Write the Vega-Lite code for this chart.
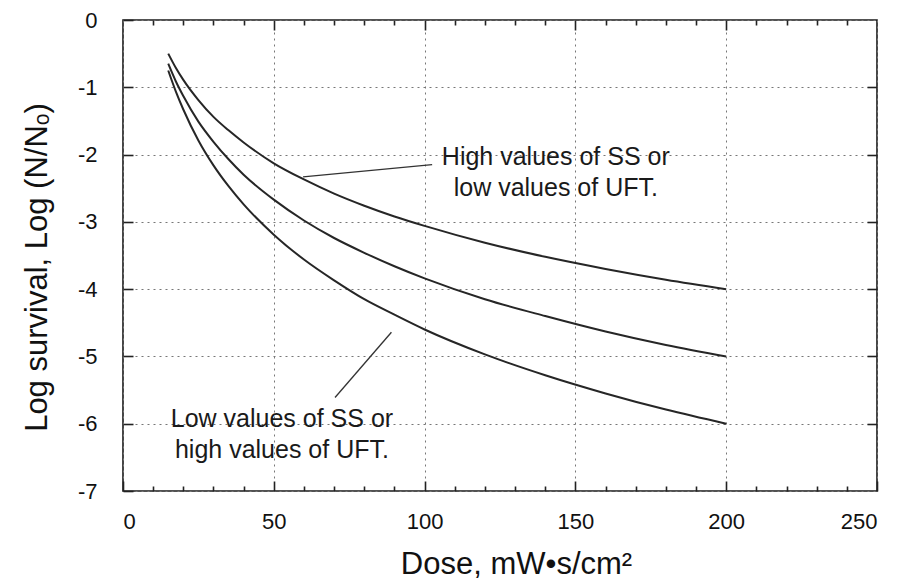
{
  "$schema": "https://vega.github.io/schema/vega-lite/v6.json",
  "width": 754,
  "height": 471,
  "autosize": {"type": "none"},
  "padding": {"left": 123, "top": 20, "right": 30, "bottom": 88},
  "background": "white",
  "config": {
    "view": {"stroke": "#1a1a1a", "strokeWidth": 1.6},
    "axis": {"domain": false, "labelFont": "Liberation Sans", "titleFont": "Liberation Sans", "labelColor": "#111", "titleColor": "#111", "tickColor": "#222", "tickWidth": 1.6, "titleFontWeight": "normal"}
  },
  "datasets": {
    "curves": [
      {"s": "high", "dose": 15, "logS": -0.50}, {"s": "high", "dose": 17.5, "logS": -0.71}, {"s": "high", "dose": 20, "logS": -0.89}, {"s": "high", "dose": 25, "logS": -1.19}, {"s": "high", "dose": 30, "logS": -1.44}, {"s": "high", "dose": 35, "logS": -1.64}, {"s": "high", "dose": 40, "logS": -1.82}, {"s": "high", "dose": 50, "logS": -2.13}, {"s": "high", "dose": 60, "logS": -2.37}, {"s": "high", "dose": 70, "logS": -2.58}, {"s": "high", "dose": 80, "logS": -2.76}, {"s": "high", "dose": 90, "logS": -2.92}, {"s": "high", "dose": 100, "logS": -3.06}, {"s": "high", "dose": 120, "logS": -3.31}, {"s": "high", "dose": 140, "logS": -3.52}, {"s": "high", "dose": 160, "logS": -3.70}, {"s": "high", "dose": 180, "logS": -3.86}, {"s": "high", "dose": 200, "logS": -4.00},
      {"s": "mid", "dose": 15, "logS": -0.65}, {"s": "mid", "dose": 17.5, "logS": -0.91}, {"s": "mid", "dose": 20, "logS": -1.13}, {"s": "mid", "dose": 25, "logS": -1.51}, {"s": "mid", "dose": 30, "logS": -1.81}, {"s": "mid", "dose": 35, "logS": -2.07}, {"s": "mid", "dose": 40, "logS": -2.30}, {"s": "mid", "dose": 50, "logS": -2.67}, {"s": "mid", "dose": 60, "logS": -2.98}, {"s": "mid", "dose": 70, "logS": -3.24}, {"s": "mid", "dose": 80, "logS": -3.46}, {"s": "mid", "dose": 90, "logS": -3.66}, {"s": "mid", "dose": 100, "logS": -3.84}, {"s": "mid", "dose": 120, "logS": -4.15}, {"s": "mid", "dose": 140, "logS": -4.40}, {"s": "mid", "dose": 160, "logS": -4.63}, {"s": "mid", "dose": 180, "logS": -4.83}, {"s": "mid", "dose": 200, "logS": -5.00},
      {"s": "low", "dose": 15, "logS": -0.75}, {"s": "low", "dose": 17.5, "logS": -1.06}, {"s": "low", "dose": 20, "logS": -1.33}, {"s": "low", "dose": 25, "logS": -1.79}, {"s": "low", "dose": 30, "logS": -2.16}, {"s": "low", "dose": 35, "logS": -2.47}, {"s": "low", "dose": 40, "logS": -2.74}, {"s": "low", "dose": 50, "logS": -3.19}, {"s": "low", "dose": 60, "logS": -3.56}, {"s": "low", "dose": 70, "logS": -3.87}, {"s": "low", "dose": 80, "logS": -4.15}, {"s": "low", "dose": 90, "logS": -4.38}, {"s": "low", "dose": 100, "logS": -4.60}, {"s": "low", "dose": 120, "logS": -4.97}, {"s": "low", "dose": 140, "logS": -5.28}, {"s": "low", "dose": 160, "logS": -5.55}, {"s": "low", "dose": 180, "logS": -5.79}, {"s": "low", "dose": 200, "logS": -6.00}
    ],
    "pointers": [
      {"x1": 59.7, "y1": -2.33, "x2": 102.5, "y2": -2.15},
      {"x1": 70.3, "y1": -5.61, "x2": 89.0, "y2": -4.64}
    ],
    "labelsA": [
      {"x": 143.5, "y": -2.04, "t": "High values of SS or"},
      {"x": 143.5, "y": -2.49, "t": "low values of UFT."}
    ],
    "labelsB": [
      {"x": 52.7, "y": -5.93, "t": "Low values of SS or"},
      {"x": 52.7, "y": -6.39, "t": "high values of UFT."}
    ]
  },
  "layer": [
    {
      "data": {"name": "curves"},
      "mark": {"type": "line", "color": "#262626", "strokeWidth": 2, "interpolate": "monotone"},
      "encoding": {
        "x": {"field": "dose", "type": "quantitative", "scale": {"domain": [0, 250], "nice": false},
          "axis": {"orient": "bottom", "values": [0, 50, 100, 150, 200, 250], "tickSize": -10, "labelPadding": 30, "labelFontSize": 22, "grid": true, "gridDash": [2, 4], "gridColor": "#777", "gridWidth": 1, "title": "Dose, mW•s/cm²", "titleFontSize": 31, "titleX": 393, "titleY": 82, "titleAlign": "center", "titleBaseline": "alphabetic"}},
        "y": {"field": "logS", "type": "quantitative", "scale": {"domain": [-7, 0], "nice": false, "zero": false},
          "axis": {"orient": "left", "values": [-7, -6, -5, -4, -3, -2, -1, 0], "labelExpr": "'' + datum.value", "tickSize": -10, "labelPadding": 36, "labelFontSize": 22, "grid": true, "gridDash": [2, 4], "gridColor": "#777", "gridWidth": 1, "title": "Log survival, Log (N/Nₒ)", "titleFontSize": 31, "titleX": -86, "titleY": 247, "titleAlign": "center", "titleBaseline": "middle", "titleAngle": -90}},
        "detail": {"field": "s"}
      }
    },
    {
      "data": {"name": "pointers"},
      "mark": {"type": "rule", "color": "#333", "strokeWidth": 1.3},
      "encoding": {
        "x": {"field": "x1", "type": "quantitative", "axis": {"orient": "bottom", "values": [10, 20, 30, 40, 60, 70, 80, 90, 110, 120, 130, 140, 160, 170, 180, 190, 210, 220, 230, 240], "tickSize": -5, "labels": false, "grid": false, "title": null}},
        "y": {"field": "y1", "type": "quantitative", "axis": {"orient": "right", "values": [-6, -5, -4, -3, -2, -1], "tickSize": -10, "labels": false, "grid": false, "title": null}},
        "x2": {"field": "x2"},
        "y2": {"field": "y2"}
      }
    },
    {
      "data": {"name": "labelsA"},
      "mark": {"type": "text", "font": "Liberation Sans", "fontSize": 25, "color": "#1a1a1a", "align": "center", "baseline": "middle"},
      "encoding": {
        "x": {"field": "x", "type": "quantitative", "axis": {"orient": "top", "values": [50, 100, 150, 200], "tickSize": -10, "labels": false, "grid": false, "title": null}},
        "y": {"field": "y", "type": "quantitative", "axis": null},
        "text": {"field": "t"}
      }
    },
    {
      "data": {"name": "labelsB"},
      "mark": {"type": "text", "font": "Liberation Sans", "fontSize": 25, "color": "#1a1a1a", "align": "center", "baseline": "middle"},
      "encoding": {
        "x": {"field": "x", "type": "quantitative", "axis": {"orient": "top", "values": [10, 20, 30, 40, 60, 70, 80, 90, 110, 120, 130, 140, 160, 170, 180, 190, 210, 220, 230, 240], "tickSize": -5, "labels": false, "grid": false, "title": null}},
        "y": {"field": "y", "type": "quantitative", "axis": null},
        "text": {"field": "t"}
      }
    }
  ],
  "resolve": {"axis": {"x": "independent", "y": "independent"}}
}
